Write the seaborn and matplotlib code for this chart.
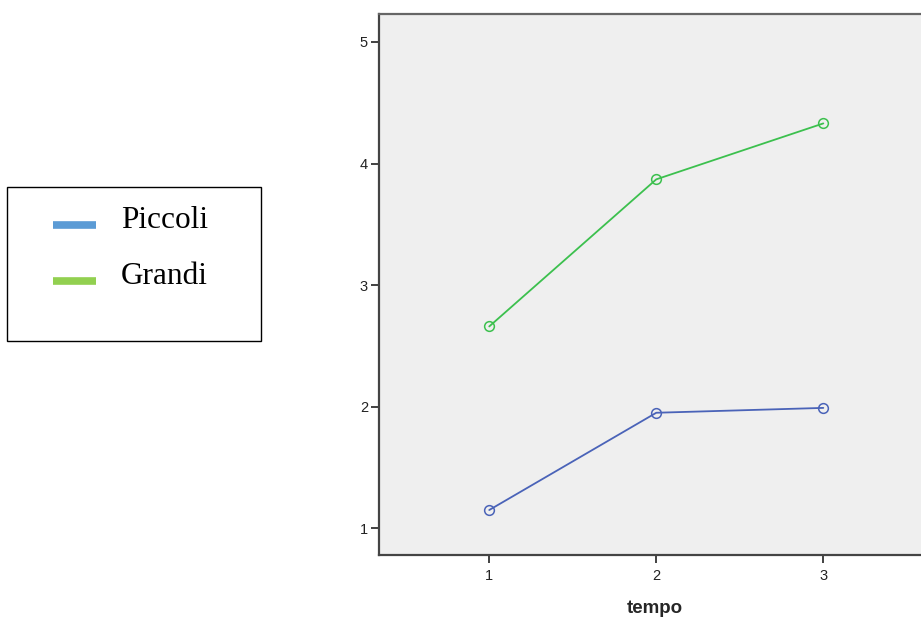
import matplotlib
matplotlib.use("Agg")
import matplotlib.pyplot as plt
import seaborn as sns
import pandas as pd
from matplotlib.patches import Rectangle
from matplotlib.lines import Line2D

# ---- data ----
tempo = [1, 2, 3]
piccoli = [1.15, 1.95, 1.99]
grandi = [2.66, 3.87, 4.33]
groups = ["Piccoli", "Grandi"]
y_ticks = [1, 2, 3, 4, 5]

line_colors = {"Piccoli": "#4a63b8", "Grandi": "#3cc04e"}
legend_colors = {"Piccoli": "#5b9bd5", "Grandi": "#92d050"}

df = pd.DataFrame({
    "tempo": tempo * 2,
    "valore": piccoli + grandi,
    "gruppo": [groups[0]] * 3 + [groups[1]] * 3,
})

sns.set_style("white")
plt.rcParams["font.family"] = ["Liberation Sans", "DejaVu Sans"]

fig = plt.figure(figsize=(9.21, 6.17), dpi=100)
ax = fig.add_axes([379 / 921, 1 - 555 / 617, 1 - 379 / 921 + 0.01, (555 - 14) / 617])
ax.set_facecolor("#efefef")

sns.lineplot(data=df, x="tempo", y="valore", hue="gruppo", palette=line_colors,
             marker="o", markersize=7, linewidth=1.3, legend=False, ax=ax)
for ln in ax.lines:
    c = ln.get_color()
    ln.set_markerfacecolor("none")
    ln.set_markeredgecolor(c)
    ln.set_markeredgewidth(1.1)

ax.set_xlim(0.34, 3.64)
ax.set_ylim(0.78, 5.23)
ax.set_xticks(tempo)
ax.set_yticks(y_ticks)
ax.set_xticklabels([str(t) for t in tempo])
ax.set_yticklabels([str(t) for t in y_ticks])
ax.tick_params(axis="both", direction="out", length=6, width=1.3, color="#333333",
               labelsize=10.5, labelcolor="#222222", left=True, bottom=True)
ax.tick_params(axis="x", pad=4)
ax.tick_params(axis="y", pad=2)
ax.set_xlabel("tempo", fontsize=13.5, fontweight="bold", labelpad=12)
ax.set_ylabel("")

for side in ["left", "bottom", "top"]:
    ax.spines[side].set_visible(True)
    ax.spines[side].set_color("#444444")
    ax.spines[side].set_linewidth(1.6)
ax.spines["top"].set_color("#666666")
ax.spines["right"].set_visible(False)

# ---- legend box (outside the axes, left) ----
W, H = 921, 617
def fx(x): return x / W
def fy(y): return 1 - y / H

fig.patches.append(Rectangle((fx(7), fy(341)), fx(261) - fx(7), fy(187) - fy(341),
                             transform=fig.transFigure, facecolor="white",
                             edgecolor="black", linewidth=1.0))
for name, yy in zip(groups, [225, 281]):
    fig.lines.append(Line2D([fx(53), fx(96)], [fy(yy), fy(yy)], transform=fig.transFigure,
                            color=legend_colors[name], linewidth=5.5, solid_capstyle="butt"))
    fig.text(fx(121), fy(yy - 5), name, fontsize=22.5, va="center", ha="left",
             family=["Liberation Serif", "DejaVu Serif"], color="black")

fig.savefig("out.png", dpi=100)
